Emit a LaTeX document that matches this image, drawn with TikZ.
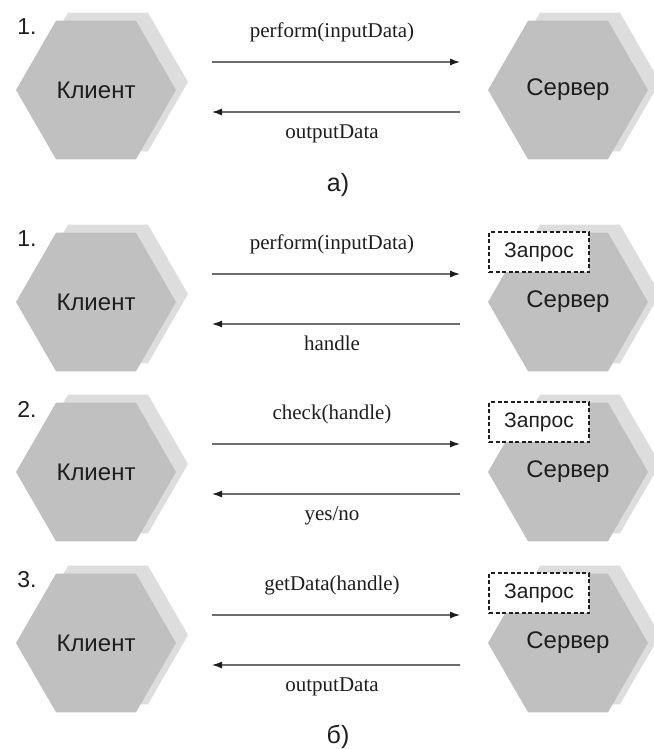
\documentclass[tikz,border=0pt]{standalone}
\usepackage{fontspec}
\setmainfont{Liberation Serif}
\setsansfont{Liberation Sans}
\usetikzlibrary{arrows.meta,shapes.geometric}
\definecolor{hexlight}{RGB}{221,221,221}
\definecolor{hexdark}{RGB}{192,192,192}
\definecolor{ink}{RGB}{30,30,30}

\begin{document}
\begin{tikzpicture}[x=1pt, y=-1pt,
     H/.style = {regular polygon, regular polygon sides=6,% flat top hexagon
                 minimum size=160pt, inner sep=0pt, outer sep=0pt},
    HB/.style = {H, fill=hexlight},% shadow behind
    HF/.style = {H, fill=hexdark, text=ink,
                 font=\sffamily\fontsize{24}{24}\selectfont},
     Q/.style = {rectangle, draw=ink, line width=1.3pt,
                 dash pattern=on 4pt off 2.5pt, fill=white, text=ink,
                 minimum width=100pt, minimum height=40pt,
                 font=\sffamily\fontsize{21}{21}\selectfont},
   msg/.style = {draw=ink, line width=1.2pt, -{Latex[length=10pt,width=7pt]}},
   lbl/.style = {text=ink, text height=1.5ex, text depth=.25ex,
                 font=\fontsize{21}{21}\selectfont},
   num/.style = {text=ink, font=\sffamily\fontsize{23}{23}\selectfont},
  part/.style = {text=ink, font=\sffamily\fontsize{25}{25}\selectfont},
                        ]
\useasboundingbox (0,0) rectangle (653,749);
% a)
\node[HB] (clb0) at (108,82) {};
\node[HF] (cl0) at (96,90) {Клиент};
\node[HB] (srvb0) at (580,82) {};
\node[HF] (srv0) at (568,90) {Сервер};
\node[num] (n0) at (27,27) {1.};
\draw[msg, shorten <=36pt, shorten >=28pt] ([yshift=28pt]cl0.east)
    -- node[lbl, yshift=27pt] {perform(inputData)} ([yshift=28pt]srv0.west);
\draw[msg, shorten <=28pt, shorten >=36pt] ([yshift=-22pt]srv0.west)
    -- node[lbl, yshift=-24pt] {outputData} ([yshift=-22pt]cl0.east);
\node[part] (parta) at (338,185) {а)};
% b)
\foreach \n/\yy/\ask/\ans in {1/302/perform(inputData)/handle,
                               2/472/check(handle)/{yes/no},
                               3/643/getData(handle)/outputData}{
  \node[HB] (clb\n) at (108,\yy-8) {};
  \node[HF] (cl\n) at (96,\yy) {Клиент};
  \node[HB] (srvb\n) at (580,\yy-8) {};
  \node[HF] (srv\n) at (568,\yy) {Сервер};
  \node[Q] (q\n) at (539,\yy-50) {Запрос};
  \node[num] (n\n) at (27,\yy-63) {\n.};
  \draw[msg, shorten <=36pt, shorten >=28pt] ([yshift=28pt]cl\n.east)
      -- node[lbl, yshift=27pt] {\ask} ([yshift=28pt]srv\n.west);
  \draw[msg, shorten <=28pt, shorten >=36pt] ([yshift=-22pt]srv\n.west)
      -- node[lbl, yshift=-24pt] {\ans} ([yshift=-22pt]cl\n.east);
}
\node[part] (partb) at (338,737) {б)};
\end{tikzpicture}
\end{document}
